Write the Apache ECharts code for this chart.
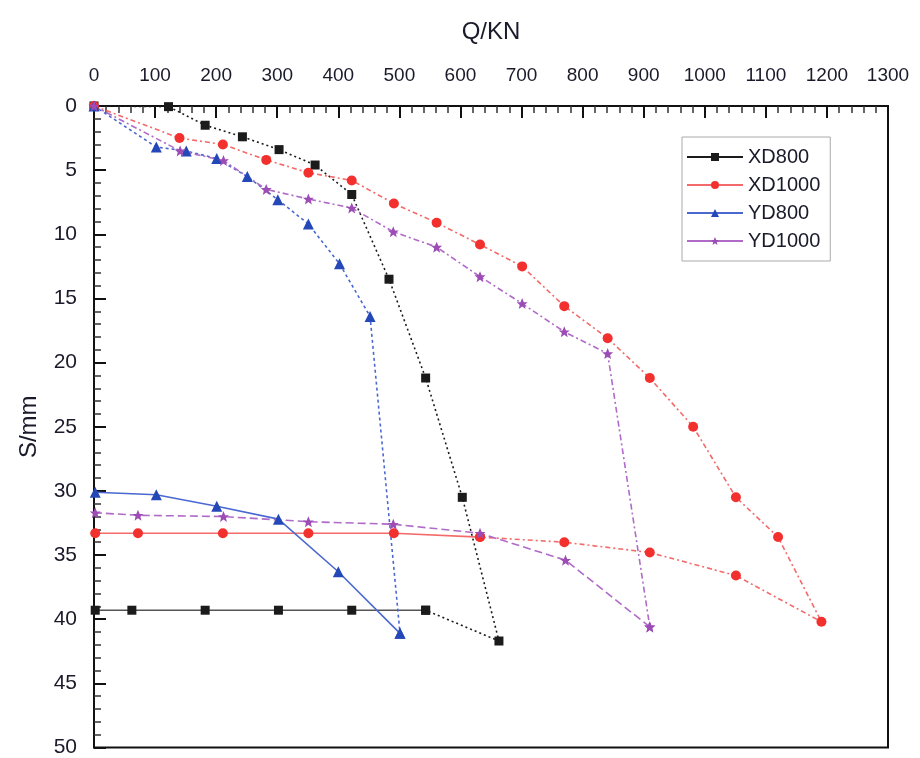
<!DOCTYPE html>
<html>
<head>
<meta charset="utf-8">
<script src="https://cdn.jsdelivr.net/npm/echarts@6/dist/echarts.min.js"></script>
<style>
  html, body { margin: 0; padding: 0; background: #fff; }
  #chart { width: 920px; height: 758px; }
</style>
</head>
<body>
<div id="chart"></div>
<script>
// Q (kN) and S (mm), loading branch then unloading branch
var xd800LoadQ   = [0, 122, 182, 243, 303, 362, 422, 483, 543, 603, 663, 543];
var xd800LoadS   = [0, 0.05, 1.5, 2.4, 3.4, 4.6, 6.9, 13.5, 21.2, 30.5, 41.7, 39.3];
var xd800UnloadQ = [543, 422, 302, 182, 62, 2];
var xd800UnloadS = [39.3, 39.3, 39.3, 39.3, 39.3, 39.3];

var xd1000LoadQ   = [0, 140, 211, 282, 351, 422, 491, 561, 632, 701, 770, 841, 910, 981, 1051, 1120, 1191, 1051, 910, 770, 632];
var xd1000LoadS   = [0, 2.5, 3.0, 4.2, 5.2, 5.8, 7.6, 9.1, 10.8, 12.5, 15.6, 18.1, 21.2, 25.0, 30.5, 33.6, 40.2, 36.6, 34.8, 34.0, 33.6];
var xd1000UnloadQ = [632, 491, 351, 211, 72, 2];
var xd1000UnloadS = [33.6, 33.3, 33.3, 33.3, 33.3, 33.3];

var yd800LoadQ   = [0, 102, 151, 201, 251, 301, 351, 402, 452, 501];
var yd800LoadS   = [0, 3.2, 3.5, 4.1, 5.5, 7.3, 9.2, 12.3, 16.4, 41.1];
var yd800UnloadQ = [501, 400, 302, 201, 102, 2];
var yd800UnloadS = [41.1, 36.3, 32.2, 31.2, 30.3, 30.1];

var yd1000LoadQ   = [0, 141, 212, 282, 351, 422, 490, 561, 632, 701, 770, 841, 910];
var yd1000LoadS   = [0, 3.5, 4.25, 6.5, 7.25, 7.95, 9.8, 11.0, 13.3, 15.4, 17.6, 19.3, 40.6];
var yd1000UnloadQ = [910, 772, 632, 490, 351, 212, 72, 2];
var yd1000UnloadS = [40.6, 35.4, 33.3, 32.6, 32.4, 32.0, 31.9, 31.7];

var xTicks = [0, 1300, 100];
var yTicks = [0, 50, 5];

function pairs(qs, ss) {
    var list = [];
    for (var i = 0; i < qs.length; i++) {
        list.push([qs[i], ss[i]]);
    }
    return list;
}

function makeSeries(name, data, color, lineColor, symbol, size, dash) {
    return {
        name: name,
        type: 'line',
        data: data,
        symbol: symbol,
        symbolSize: size,
        itemStyle: { color: color },
        lineStyle: { color: lineColor, width: 1.6, type: dash },
        emphasis: { disabled: true },
        animation: false
    };
}

var black = '#1b1b1b', red = '#f2302e', redLine = '#f46a6a';
var blue = '#2448b8', blueLine = '#4a68d0', purple = '#9c4cb4', purpleLine = '#b06ac8';
var star = 'path://M0,-10 L2.9,-3.1 L9.5,-3.1 L4.2,1.2 L5.9,8.1 L0,4 L-5.9,8.1 L-4.2,1.2 L-9.5,-3.1 L-2.9,-3.1 Z';

var chart = echarts.init(document.getElementById('chart'));
var font = 'Liberation Sans, Arial, sans-serif';

chart.setOption({
    backgroundColor: '#fff',
    textStyle: { fontFamily: font },
    grid: {
        left: 94, right: 32, top: 106, bottom: 8,
        show: true, borderColor: '#111', borderWidth: 2
    },
    legend: {
        left: 682, top: 137,
        orient: 'vertical',
        itemWidth: 56, itemHeight: 10, itemGap: 8,
        padding: [10, 10, 10, 4],
        borderColor: '#aaa', borderWidth: 1,
        textStyle: { fontSize: 20, color: '#1a1a2a', fontFamily: font },
        data: [
            { name: 'XD800', lineStyle: { type: 'solid' } },
            { name: 'XD1000', lineStyle: { type: 'solid' } },
            { name: 'YD800', lineStyle: { type: 'solid' } },
            { name: 'YD1000', lineStyle: { type: 'solid' } }
        ]
    },
    xAxis: {
        type: 'value', position: 'top',
        min: xTicks[0], max: xTicks[1], interval: xTicks[2],
        name: 'Q/KN', nameLocation: 'middle', nameGap: 62,
        nameTextStyle: { fontSize: 24, color: '#1a1a2a' },
        axisLine: { lineStyle: { color: '#111', width: 2 } },
        axisTick: { inside: true, length: 12, lineStyle: { color: '#111', width: 2 } },
        minorTick: { show: true, splitNumber: 5, length: 7, lineStyle: { color: '#333', width: 1.5 } },
        axisLabel: {
            fontSize: 19, color: '#1a1a2a', margin: 21,
            formatter: function (v) { return String(v); }
        },
        splitLine: { show: false }
    },
    yAxis: {
        type: 'value', inverse: true,
        min: yTicks[0], max: yTicks[1], interval: yTicks[2],
        name: 'S/mm', nameLocation: 'middle', nameGap: 53,
        nameTextStyle: { fontSize: 24, color: '#1a1a2a' },
        axisLine: { lineStyle: { color: '#111', width: 2 } },
        axisTick: { inside: true, length: 12, lineStyle: { color: '#111', width: 2 } },
        minorTick: { show: true, splitNumber: 5, length: 7, lineStyle: { color: '#333', width: 1.5 } },
        axisLabel: { fontSize: 21, color: '#1a1a2a', margin: 17 },
        splitLine: { show: false }
    },
    series: [
        makeSeries('XD800', pairs(xd800LoadQ, xd800LoadS), black, black, 'rect', 9, [2, 3]),
        makeSeries('XD800', pairs(xd800UnloadQ, xd800UnloadS), black, '#555', 'rect', 9, 'solid'),
        makeSeries('XD1000', pairs(xd1000LoadQ, xd1000LoadS), red, redLine, 'circle', 10, [5, 3, 2, 3]),
        makeSeries('XD1000', pairs(xd1000UnloadQ, xd1000UnloadS), red, redLine, 'circle', 10, 'solid'),
        makeSeries('YD800', pairs(yd800LoadQ, yd800LoadS), blue, blueLine, 'triangle', 11, [3, 3]),
        makeSeries('YD800', pairs(yd800UnloadQ, yd800UnloadS), blue, blueLine, 'triangle', 11, 'solid'),
        makeSeries('YD1000', pairs(yd1000LoadQ, yd1000LoadS), purple, purpleLine, star, 11, [6, 3, 2, 3]),
        makeSeries('YD1000', pairs(yd1000UnloadQ, yd1000UnloadS), purple, purpleLine, star, 11, [8, 4])
    ]
});
</script>
</body>
</html>
